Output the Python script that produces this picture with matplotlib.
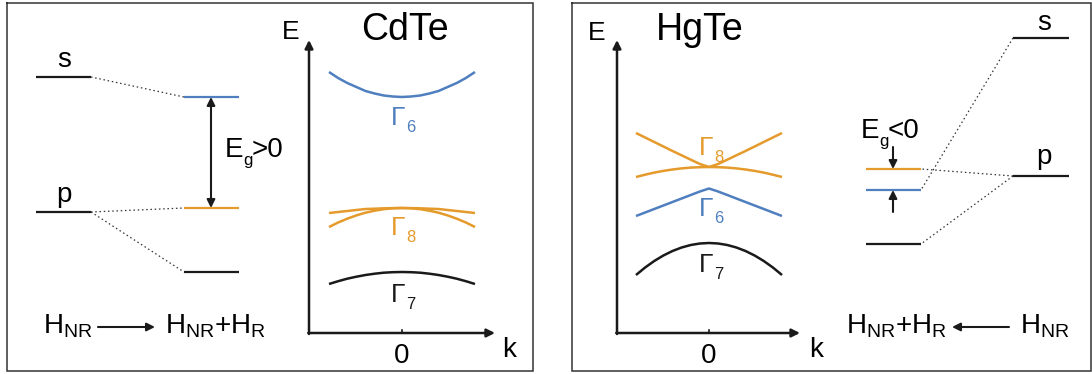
import numpy as np
import matplotlib
matplotlib.use('Agg')
import matplotlib.pyplot as plt

plt.rcParams['font.family'] = ['Liberation Sans', 'DejaVu Sans']
plt.rcParams['mathtext.fontset'] = 'custom'
plt.rcParams['mathtext.rm'] = 'Liberation Sans'
plt.rcParams['mathtext.it'] = 'Liberation Sans:italic'

BLUE = '#4f7fbf'
ORANGE = '#e59a2c'
BLACK = '#1a1a1a'

# band dispersion, k in units of the drawn half width, E in arbitrary units
k = [-1, -0.875, -0.75, -0.625, -0.5, -0.375, -0.25, -0.125, 0,
     0.125, 0.25, 0.375, 0.5, 0.625, 0.75, 0.875, 1]

cdte_g6 = [2.61, 2.55, 2.50, 2.46, 2.42, 2.395, 2.375, 2.365, 2.36,
           2.365, 2.375, 2.395, 2.42, 2.46, 2.50, 2.55, 2.61]
cdte_g8_hh = [1.20, 1.21, 1.22, 1.23, 1.24, 1.243, 1.247, 1.249, 1.25,
              1.249, 1.247, 1.243, 1.24, 1.23, 1.22, 1.21, 1.20]
cdte_g8_lh = [1.06, 1.105, 1.143, 1.176, 1.203, 1.223, 1.238, 1.247, 1.25,
              1.247, 1.238, 1.223, 1.203, 1.176, 1.143, 1.105, 1.06]
cdte_g7 = [0.49, 0.518, 0.543, 0.563, 0.58, 0.593, 0.603, 0.608, 0.61,
           0.608, 0.603, 0.593, 0.58, 0.563, 0.543, 0.518, 0.49]

hgte_g8_up = [2.00, 1.955, 1.91, 1.865, 1.82, 1.777, 1.733, 1.69, 1.66,
              1.69, 1.733, 1.777, 1.82, 1.865, 1.91, 1.955, 2.00]
hgte_g8_dn = [1.56, 1.583, 1.604, 1.621, 1.635, 1.646, 1.654, 1.658, 1.66,
              1.658, 1.654, 1.646, 1.635, 1.621, 1.604, 1.583, 1.56]
hgte_g6 = [1.17, 1.205, 1.24, 1.275, 1.31, 1.345, 1.38, 1.415, 1.445,
           1.415, 1.38, 1.345, 1.31, 1.275, 1.24, 1.205, 1.17]
hgte_g7 = [0.58, 0.655, 0.72, 0.775, 0.82, 0.855, 0.88, 0.895, 0.90,
           0.895, 0.88, 0.855, 0.82, 0.775, 0.72, 0.655, 0.58]

# atomic levels (s, p) and levels after spin-orbit (G6, G8, G7)
cdte_sp = [2.56, 1.21]
cdte_split = [2.36, 1.25, 0.61]
hgte_sp = [2.95, 1.57]
hgte_split = [1.43, 1.64, 0.89]
split_colors = [BLUE, ORANGE, BLACK]

E_top = 2.93

fig = plt.figure(figsize=(10.92, 3.74), dpi=100)
ax = fig.add_axes([0, 0, 1, 1])
ax.set_xlim(0, 1092)
ax.set_ylim(-0.41, 3.33)
ax.axis('off')

# panel frames
for x0, x1 in [(7, 533), (572, 1091)]:
    ax.plot([x0, x1, x1, x0, x0], [3.305, 3.305, -0.38, -0.38, 3.305],
            color='#333333', lw=1.1, solid_joinstyle='miter')

lvl = dict(lw=1.6, solid_capstyle='butt')
dot = dict(color='#333333', lw=0.9, ls=(0, (1.2, 2.2)))
arr = dict(arrowstyle='-|>', color=BLACK, lw=1.5, mutation_scale=12,
           shrinkA=0, shrinkB=0)


def eg_label(x, e, rel):
    ax.text(x, e, 'E', fontsize=20, va='baseline')
    ax.text(x + 18, e - 0.08, 'g', fontsize=12, va='baseline')
    ax.text(x + 27, e, rel + '0', fontsize=20, va='baseline')


# ---- CdTe level scheme ----
for e in cdte_sp:
    ax.plot([36, 91], [e, e], color=BLACK, **lvl)
for e, c in zip(cdte_split, split_colors):
    ax.plot([184, 239], [e, e], color=c, **lvl)
ax.plot([91, 184], [cdte_sp[0], cdte_split[0]], **dot)
ax.plot([91, 184], [cdte_sp[1], cdte_split[1]], **dot)
ax.plot([91, 184], [cdte_sp[1], cdte_split[2]], **dot)
ax.text(64, 2.66, 's', fontsize=20, ha='center', va='baseline')
ax.text(64, 1.31, 'p', fontsize=20, ha='center', va='baseline')
ax.annotate('', xy=(211, cdte_split[0]), xytext=(211, cdte_split[1]),
            arrowprops=dict(arr, arrowstyle='<|-|>'))
eg_label(225, 1.76, '>')

ax.text(43, 0.0, r'$\mathrm{H_{NR}}$', fontsize=20, va='baseline')
ax.annotate('', xy=(155, 0.06), xytext=(98, 0.06), arrowprops=arr)
ax.text(165, 0.0, r'$\mathrm{H_{NR}{+}H_R}$', fontsize=20, va='baseline')

# ---- HgTe level scheme ----
for e in hgte_sp:
    ax.plot([1013, 1069], [e, e], color=BLACK, **lvl)
for e, c in zip(hgte_split, split_colors):
    ax.plot([866, 921], [e, e], color=c, **lvl)
ax.plot([1013, 921], [hgte_sp[0], hgte_split[0]], **dot)
ax.plot([1013, 921], [hgte_sp[1], hgte_split[1]], **dot)
ax.plot([1013, 921], [hgte_sp[1], hgte_split[2]], **dot)
ax.text(1044, 3.03, 's', fontsize=20, ha='center', va='baseline')
ax.text(1044, 1.69, 'p', fontsize=20, ha='center', va='baseline')
ax.annotate('', xy=(893, hgte_split[1]), xytext=(893, 1.86), arrowprops=arr)
ax.annotate('', xy=(893, hgte_split[0]), xytext=(893, 1.21), arrowprops=arr)
eg_label(861, 1.95, '<')

ax.text(846, -0.01, r'$\mathrm{H_{NR}{+}H_R}$', fontsize=20, va='baseline')
ax.annotate('', xy=(952, 0.06), xytext=(1009, 0.06), arrowprops=arr)
ax.text(1020, -0.01, r'$\mathrm{H_{NR}}$', fontsize=20, va='baseline')


# ---- E(k) diagrams ----
def band_axes(x_org, x_zero, x_end, unit=73):
    bx = fig.add_axes([x_org / 1092, 0, (x_end - x_org) / 1092, 1])
    bx.set_xlim((x_org - x_zero) / unit, (x_end - x_zero) / unit)
    bx.set_ylim(-0.41, 3.33)
    bx.axis('off')
    bx.patch.set_alpha(0)
    x0, x1 = bx.get_xlim()
    bx.annotate('', xy=(x1, 0), xytext=(x0 - 0.01, 0), arrowprops=dict(arr, lw=1.8))
    bx.annotate('', xy=(x0, E_top), xytext=(x0, -0.01), arrowprops=dict(arr, lw=1.8))
    bx.plot([0, 0], [0, 0.03], color=BLACK, lw=1.2)
    return bx


bl = dict(lw=1.8, solid_capstyle='butt', solid_joinstyle='round')

b1 = band_axes(309, 402, 495)
b1.plot(k, cdte_g6, color=BLUE, **bl)
b1.plot(k, cdte_g8_hh, color=ORANGE, **bl)
b1.plot(k, cdte_g8_lh, color=ORANGE, **bl)
b1.plot(k, cdte_g7, color=BLACK, **bl)

b2 = band_axes(617, 709, 800)
b2.plot(k, hgte_g8_up, color=ORANGE, **bl)
b2.plot(k, hgte_g8_dn, color=ORANGE, **bl)
b2.plot(k, hgte_g6, color=BLUE, **bl)
b2.plot(k, hgte_g7, color=BLACK, **bl)

# axis labels and titles
ax.text(282, 2.94, 'E', fontsize=19, va='baseline')
ax.text(402, -0.30, '0', fontsize=20, ha='center', va='baseline')
ax.text(502, -0.24, 'k', fontsize=20, va='baseline')
ax.text(405, 2.93, 'CdTe', fontsize=27, ha='center', va='baseline')

ax.text(588, 2.93, 'E', fontsize=19, va='baseline')
ax.text(709, -0.30, '0', fontsize=20, ha='center', va='baseline')
ax.text(809, -0.24, 'k', fontsize=20, va='baseline')
ax.text(700, 2.93, 'HgTe', fontsize=27, ha='center', va='baseline')

# Gamma labels: (x, baseline E, subscript, colour)
gamma_labels = [
    (391, 2.08, '6', BLUE), (391, 0.98, '8', ORANGE), (391, 0.31, '7', BLACK),
    (699, 1.78, '8', ORANGE), (699, 1.17, '6', BLUE), (699, 0.61, '7', BLACK),
]
for x, e, sub, c in gamma_labels:
    ax.text(x, e, 'Γ', fontsize=19, color=c, va='baseline')
    ax.text(x + 15, e - 0.07, sub, fontsize=12, color=c, va='baseline')

fig.savefig('out.png', dpi=100)
